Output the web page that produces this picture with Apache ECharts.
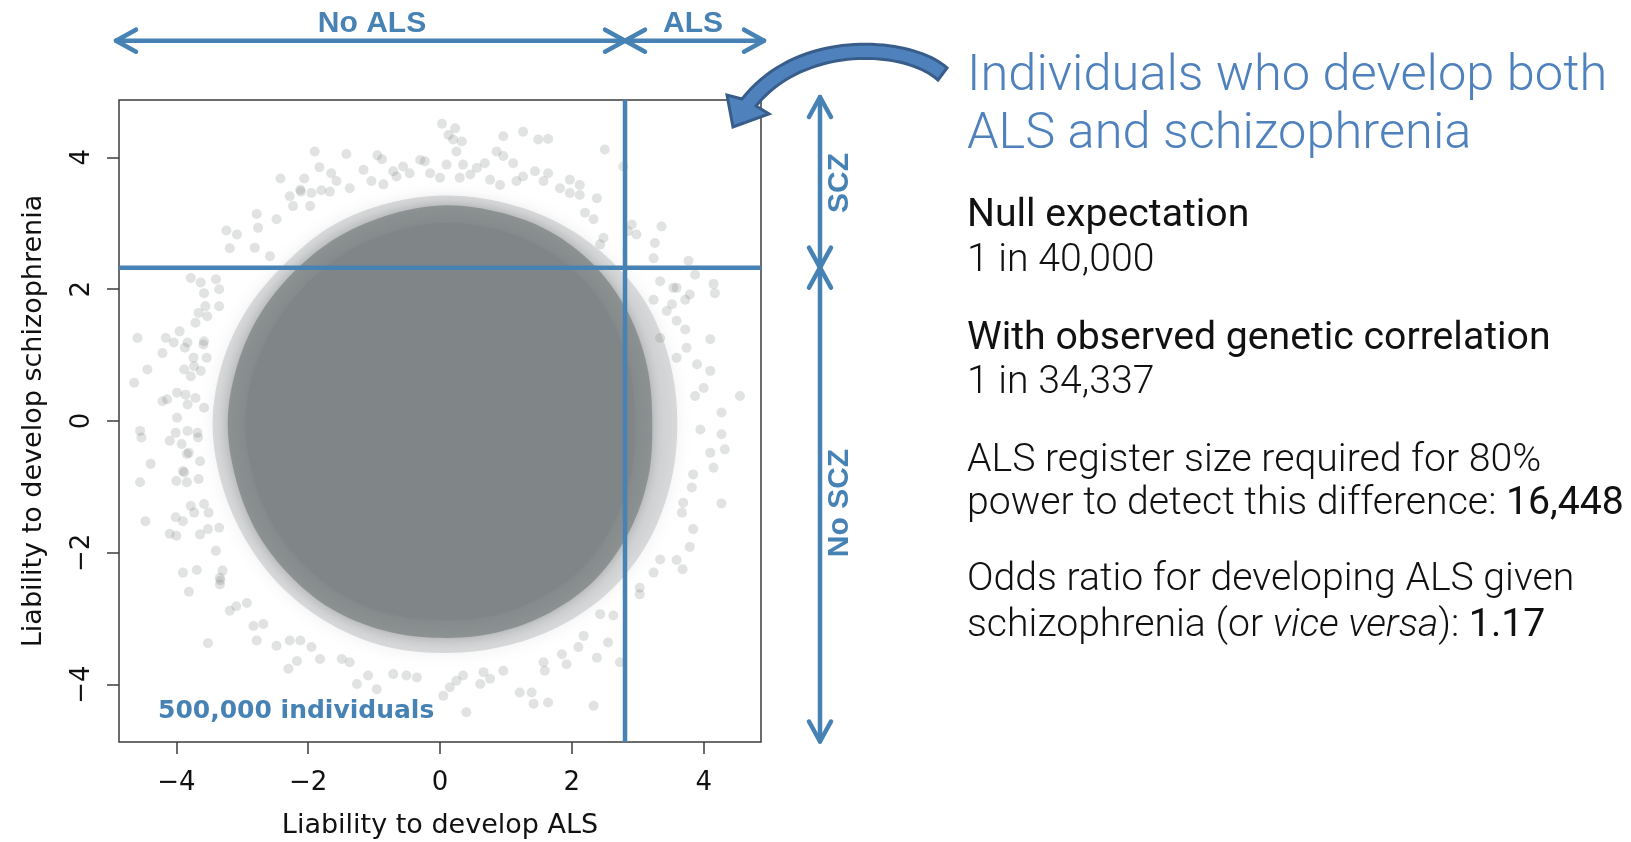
<!DOCTYPE html>
<html>
<head>
<meta charset="utf-8">
<script src="https://cdn.jsdelivr.net/npm/echarts@6/dist/echarts.min.js"></script>
<style>
  html, body { margin: 0; padding: 0; background: #ffffff; }
  #chart { width: 1631px; height: 842px; }
</style>
</head>
<body>
<div id="chart"></div>
<script>
// Liability thresholds (standard-normal quantiles for the lifetime risks)
const alsThreshold = 2.807;
const sczThreshold = 2.326;

// Axis range and tick labels
const axisRange = [-4.87, 4.87];
const tickValues = [-4, -2, 0, 2, 4];
const xTitle = 'Liability to develop ALS';
const yTitle = 'Liability to develop schizophrenia';
const sampleLabel = '500,000 individuals';

// Saturated centre of the simulated cloud, as an outline in liability units
const coreOutline = [
  [2.95, 0.00], [2.88, 0.77], [2.62, 1.51], [2.16, 2.16], [1.53, 2.64], [0.78, 2.92],
  [0.00, 3.00], [-0.76, 2.85], [-1.46, 2.53], [-2.05, 2.05], [-2.51, 1.45], [-2.82, 0.76],
  [-2.95, 0.00], [-2.85, -0.76], [-2.58, -1.49], [-2.12, -2.12], [-1.51, -2.62], [-0.78, -2.92],
  [0.00, -3.02], [0.79, -2.95], [1.54, -2.67], [2.19, -2.19], [2.64, -1.53], [2.90, -0.78]
];
// Densely overlapping band just outside the centre
const innerHalo = [
  [3.22, 0.00], [3.14, 0.84], [2.85, 1.65], [2.35, 2.35], [1.66, 2.88], [0.85, 3.18],
  [0.00, 3.27], [-0.83, 3.11], [-1.60, 2.76], [-2.24, 2.24], [-2.75, 1.59], [-3.08, 0.83],
  [-3.22, 0.00], [-3.11, -0.83], [-2.81, -1.63], [-2.31, -2.31], [-1.65, -2.85], [-0.85, -3.18],
  [0.00, -3.29], [0.86, -3.21], [1.68, -2.90], [2.38, -2.38], [2.88, -1.66], [3.16, -0.85]
];
// Outer edge of the mottled band
const outerHalo = [
  [3.60, 0.00], [3.48, 0.93], [3.12, 1.80], [2.51, 2.51], [1.75, 3.03], [0.89, 3.33],
  [0.00, 3.42], [-0.88, 3.28], [-1.69, 2.93], [-2.37, 2.37], [-2.93, 1.69], [-3.30, 0.89],
  [-3.45, 0.00], [-3.33, -0.89], [-2.99, -1.73], [-2.46, -2.46], [-1.75, -3.03], [-0.91, -3.40],
  [0.00, -3.52], [0.92, -3.43], [1.80, -3.12], [2.58, -2.58], [3.16, -1.83], [3.50, -0.94]
];

// Individual points in the tails of the cloud
const tailPoints = [
  // upper left
  [-1.90, 4.09], [-1.83, 3.85], [-1.42, 4.05], [-0.95, 4.03], [-0.88, 3.97], [-1.65, 3.76],
  [-1.16, 3.81], [-2.42, 3.68], [-2.06, 3.68], [-1.80, 3.50], [-1.95, 3.46], [-2.11, 3.48],
  [-2.23, 3.26], [-1.97, 3.26], [-2.78, 3.14], [-2.48, 3.06], [-2.76, 2.93], [-3.24, 2.89],
  [-3.08, 2.83], [-3.19, 2.62], [-2.81, 2.63], [-2.58, 2.50], [-2.28, 3.41], [-2.12, 3.51],
  [-1.67, 3.48], [-0.71, 3.79], [-0.56, 3.86], [-0.30, 3.96], [-0.23, 3.94], [-1.57, 3.64],
  [-1.37, 3.53], [-1.04, 3.64], [-0.86, 3.59], [-0.66, 3.71], [-0.46, 3.76], [-0.15, 3.76],
  // upper middle and upper right
  [0.00, 3.69], [0.10, 3.89], [0.35, 3.89], [0.68, 3.91], [0.56, 3.84], [0.30, 3.69],
  [0.46, 3.74], [0.76, 3.66], [0.91, 3.58], [1.16, 3.64], [1.26, 3.71], [1.57, 3.64],
  [1.82, 3.53], [1.97, 3.46], [0.03, 4.51], [0.23, 4.44], [0.13, 4.34], [0.20, 4.27],
  [0.33, 4.24], [0.25, 4.09], [0.96, 4.32], [1.26, 4.39], [1.49, 4.27], [1.64, 4.28],
  [2.50, 4.12], [2.78, 3.86], [0.86, 4.09], [0.96, 4.02], [1.11, 3.91], [1.44, 3.79],
  [1.64, 3.76], [1.97, 3.66], [2.12, 3.58], [2.12, 3.43], [2.38, 3.38], [2.33, 3.06],
  [2.20, 3.16], [2.48, 2.78], [2.43, 2.68],
  // both thresholds exceeded, and the right-hand tail
  [2.91, 2.98], [2.98, 2.83], [2.85, 2.88], [3.36, 2.95], [3.26, 2.70], [3.24, 2.47],
  [3.77, 2.43], [3.87, 2.22], [4.15, 2.08], [4.17, 1.94], [3.72, 1.84], [3.79, 1.92],
  [3.59, 2.02], [4.10, 1.24], [4.55, 0.38], [4.27, 0.13], [4.27, -0.20], [4.32, -0.43],
  [4.10, 0.76], [3.90, 0.86], [4.00, 0.50], [3.87, 0.38], [3.72, 1.39], [3.59, 1.52],
  [3.74, 1.11], [3.95, -0.13], [4.10, -0.48], [4.15, -0.71], [3.34, 2.12], [3.54, 2.02],
  [3.24, 1.84], [3.52, 1.77], [3.44, 1.67], [3.34, 1.26], [3.59, 0.96],
  // lower right
  [4.27, -1.25], [3.84, -1.64], [3.79, -1.91], [3.68, -2.25], [3.59, -2.11], [3.34, -2.10],
  [3.24, -2.30], [3.03, -2.53], [3.03, -2.63], [2.55, -3.36], [2.73, -3.66], [2.43, -2.93],
  [2.63, -2.95], [3.69, -1.24], [3.67, -1.39], [3.82, -1.01], [3.84, -0.81], [2.33, -4.32],
  [2.38, -3.59], [2.10, -3.43], [2.18, -3.26], [1.85, -3.54], [1.21, -4.12], [1.39, -4.12],
  [1.42, -4.29], [1.64, -4.27], [1.59, -3.79], [1.57, -3.66], [1.92, -3.69], [0.05, -4.17],
  [0.15, -4.04], [0.25, -3.94], [0.35, -3.86], [0.40, -4.42], [0.61, -3.99], [0.66, -3.81],
  [0.76, -3.91], [0.96, -3.79],
  // lower left
  [-1.26, -3.99], [-0.96, -4.07], [-1.09, -3.86], [-0.71, -3.84], [-0.51, -3.86], [-0.35, -3.89],
  [-1.49, -3.61], [-1.37, -3.66], [-2.48, -3.41], [-2.28, -3.33], [-2.12, -3.33], [-1.95, -3.43],
  [-1.82, -3.61], [-2.30, -3.76], [-2.17, -3.64], [-2.78, -3.33], [-3.52, -3.37], [-3.19, -2.88],
  [-3.09, -2.81], [-2.93, -2.76], [-2.83, -3.11], [-2.68, -3.08], [-3.34, -2.38], [-3.34, -2.48],
  [-3.81, -2.59], [-3.90, -2.30], [-3.69, -2.26], [-3.33, -2.42], [-3.30, -2.27], [-3.40, -1.97],
  [-4.47, -1.52], [-4.10, -1.71], [-4.00, -1.74], [-4.01, -1.46], [-3.90, -1.52], [-3.64, -1.72],
  [-3.52, -1.64], [-3.35, -1.62], [-3.78, -1.29], [-3.73, -1.39], [-3.58, -1.26], [-3.51, -1.39],
  // left
  [-4.55, -0.15], [-4.53, -0.25], [-4.10, -0.30], [-4.39, -0.65], [-4.55, -0.93], [-3.92, -0.35],
  [-3.84, -0.50], [-3.67, -0.25], [-3.64, -0.61], [-3.90, -0.76], [-4.00, -0.91], [-3.84, -0.93],
  [-4.01, -0.18], [-3.83, -0.15], [-3.68, -0.18], [-3.81, -0.48], [-3.66, -0.88], [-3.88, -0.78],
  [-4.21, 0.30], [-4.14, 0.33], [-3.99, 0.43], [-3.86, 0.40], [-3.83, 0.25], [-3.99, 0.05],
  [-3.71, 0.35], [-3.58, 0.20], [-4.64, 0.58], [-4.44, 0.78], [-3.88, 0.78], [-3.78, 0.68],
  [-3.73, 0.83], [-3.63, 0.76], [-4.59, 1.26], [-4.16, 1.26], [-4.04, 1.19], [-3.83, 1.19],
  [-4.21, 1.03], [-3.58, 1.21], [-3.87, 1.11], [-3.74, 0.96], [-3.59, 1.16], [-3.54, 0.96],
  [-3.95, 1.36], [-3.78, 2.17], [-3.63, 2.10], [-3.40, 2.15], [-3.58, 1.94], [-3.35, 2.00],
  [-3.56, 1.74], [-3.66, 1.64], [-3.53, 1.59], [-3.71, 1.49], [-3.35, 1.74]
];

// Side panel text
const panelTitle = ['Individuals who develop both', 'ALS and schizophrenia'];
const nullExpectation = '1 in 40,000';
const observedRate = '1 in 34,337';
const registerSize = '16,448';
const oddsRatio = '1.17';

const BLUE = '#4682b4';
const PANEL_BLUE = '#4f81bd';
const CLOUD = '#808587';
const INK = '#3c3c3c';

const chart = echarts.init(document.getElementById('chart'), null, { renderer: 'canvas' });

const minusSign = v => String(v).replace('-', '\u2212');
const cloudLayers = [outerHalo, innerHalo, coreOutline];
const cloudStyles = [
  { fill: 'rgba(128,133,135,0.26)', shadowBlur: 16, shadowColor: 'rgba(128,133,135,0.5)' },
  { fill: 'rgba(128,133,135,0.78)', shadowBlur: 12, shadowColor: 'rgba(128,133,135,0.7)' },
  { fill: CLOUD, shadowBlur: 6, shadowColor: CLOUD }
];

// closed Catmull-Rom curve through the outline vertices, in pixel space
function closedCurve(pts, steps) {
  const out = [], n = pts.length;
  for (let i = 0; i < n; i++) {
    const p0 = pts[(i - 1 + n) % n], p1 = pts[i], p2 = pts[(i + 1) % n], p3 = pts[(i + 2) % n];
    for (let s = 0; s < steps; s++) {
      const t = s / steps, t2 = t * t, t3 = t2 * t;
      out.push([0, 1].map(k => 0.5 * ((2 * p1[k]) + (-p0[k] + p2[k]) * t +
        (2 * p0[k] - 5 * p1[k] + 4 * p2[k] - p3[k]) * t2 + (-p0[k] + 3 * p1[k] - 3 * p2[k] + p3[k]) * t3)));
    }
  }
  return out;
}

const axisCommon = {
  type: 'value', min: axisRange[0], max: axisRange[1],
  axisLine: { show: false, onZero: false }, splitLine: { show: false },
  axisTick: { show: true, customValues: tickValues, length: 12, inside: false,
    lineStyle: { color: INK, width: 1.5 } }
};

chart.setOption({
  animation: false,
  backgroundColor: '#ffffff',
  grid: {
    left: 119, top: 100, width: 642, height: 642,
    show: true, borderColor: INK, borderWidth: 1.5, backgroundColor: 'transparent',
    outerBoundsMode: 'none'
  },
  xAxis: Object.assign({}, axisCommon, {
    axisLabel: { customValues: tickValues, formatter: minusSign, margin: 28,
      fontFamily: 'DejaVu Sans', fontSize: 26, color: '#111' },
    name: xTitle, nameLocation: 'middle', nameGap: 70,
    nameTextStyle: { fontFamily: 'DejaVu Sans', fontSize: 27, color: '#111' }
  }),
  yAxis: Object.assign({}, axisCommon, {
    axisLabel: { customValues: tickValues, formatter: minusSign, rotate: 90, margin: 24,
      fontFamily: 'DejaVu Sans', fontSize: 26, color: '#111' },
    name: yTitle, nameLocation: 'middle', nameGap: 72,
    nameTextStyle: { fontFamily: 'DejaVu Sans', fontSize: 27, color: '#111' }
  }),
  series: [
    {
      type: 'custom', coordinateSystem: 'cartesian2d', silent: true, clip: true, z: 1,
      data: cloudLayers.map((_, i) => [0, 0, i]),
      encode: { x: 0, y: 1 },
      renderItem: (params, api) => {
        const idx = api.value(2);
        return {
          type: 'polygon',
          shape: { points: closedCurve(cloudLayers[idx].map(p => api.coord(p)), 8) },
          style: cloudStyles[idx]
        };
      }
    },
    {
      type: 'scatter', data: tailPoints, symbol: 'circle', symbolSize: 10, silent: true, clip: true, z: 2,
      itemStyle: { color: 'rgba(120,125,127,0.28)' }
    },
    {
      type: 'line', data: [[alsThreshold, axisRange[0]], [alsThreshold, axisRange[1]]],
      symbol: 'none', silent: true, z: 3, lineStyle: { color: BLUE, width: 4.5 }
    },
    {
      type: 'line', data: [[axisRange[0], sczThreshold], [axisRange[1], sczThreshold]],
      symbol: 'none', silent: true, z: 3, lineStyle: { color: BLUE, width: 4.5 }
    }
  ]
});

// Annotation layer: bracket arrows aligned with the thresholds, curved pointer and side panel
const [xCross] = chart.convertToPixel({ gridIndex: 0 }, [alsThreshold, 0]);
const [, yCross] = chart.convertToPixel({ gridIndex: 0 }, [0, sczThreshold]);

const arrowStroke = { stroke: BLUE, lineWidth: 4.5, lineCap: 'round', lineJoin: 'round', fill: null };
const HEAD = 20, HALF = 11;
const topY = 40.7, leftX = 116, rightX = 764;
const sideX = 820, topTip = 97, bottomTip = 741.5;

function chevronH(tipX, y, dir) { // dir = -1 points left, +1 points right
  return { type: 'polyline', shape: { points: [[tipX - dir * HEAD, y - HALF], [tipX, y], [tipX - dir * HEAD, y + HALF]] }, style: arrowStroke };
}
function chevronV(x, tipY, dir) { // dir = -1 points up, +1 points down
  return { type: 'polyline', shape: { points: [[x - HALF, tipY - dir * HEAD], [x, tipY], [x + HALF, tipY - dir * HEAD]] }, style: arrowStroke };
}
function boldLabel(text, x, y, rot) {
  return { type: 'text', x, y, rotation: rot || 0,
    style: { text, fill: BLUE, fontFamily: 'Liberation Sans, Arial, sans-serif', fontWeight: 'bold', fontSize: 30,
      align: 'center', verticalAlign: 'middle', textAlign: 'center', textVerticalAlign: 'middle' } };
}

// curved block arrow, sampled from two cubic curves
function cubic(p0, p1, p2, p3, n) {
  const pts = [];
  for (let i = 0; i <= n; i++) {
    const t = i / n, u = 1 - t;
    pts.push([
      u * u * u * p0[0] + 3 * u * u * t * p1[0] + 3 * u * t * t * p2[0] + t * t * t * p3[0],
      u * u * u * p0[1] + 3 * u * u * t * p1[1] + 3 * u * t * t * p2[1] + t * t * t * p3[1]
    ]);
  }
  return pts;
}
const outerEdge = cubic([947, 68], [915, 38], [800, 25], [742, 99], 40);
const innerEdge = cubic([756, 106], [805, 45], [905, 50], [938, 80], 40);
const bentArrow = outerEdge.concat([[727, 95], [733, 127], [769, 114]], innerEdge);

function panelText(text, y, size, weight, color, rich) {
  return { type: 'text', x: 967, y,
    style: { text, fill: color, fontFamily: 'Roboto, sans-serif', fontSize: size, fontWeight: weight,
      align: 'left', verticalAlign: 'middle', textAlign: 'left', textVerticalAlign: 'middle', rich: rich || {} } };
}
const BODY = 39.2;
const TITLE = 50.6;
const richBody = {
  b: { fontFamily: 'Roboto, sans-serif', fontSize: BODY, fontWeight: 400, fill: '#111' },
  i: { fontFamily: 'Roboto, sans-serif', fontSize: BODY, fontWeight: 300, fontStyle: 'italic', fill: '#111' }
};

chart.setOption({
  graphic: [
    // horizontal bracket: No ALS | ALS
    { type: 'line', shape: { x1: leftX, y1: topY, x2: rightX, y2: topY }, style: arrowStroke },
    chevronH(leftX, topY, -1), chevronH(xCross, topY, 1), chevronH(xCross, topY, -1), chevronH(rightX, topY, 1),
    boldLabel('No ALS', 372, 24), boldLabel('ALS', 693, 24),
    // vertical bracket: SCZ | No SCZ
    { type: 'line', shape: { x1: sideX, y1: topTip, x2: sideX, y2: bottomTip }, style: arrowStroke },
    chevronV(sideX, topTip, -1), chevronV(sideX, yCross, 1), chevronV(sideX, yCross, -1), chevronV(sideX, bottomTip, 1),
    boldLabel('SCZ', 840, 183, Math.PI / 2), boldLabel('No SCZ', 840, 503, Math.PI / 2),
    // sample size label inside the plot
    { type: 'text', x: 158, y: 711, z: 10,
      style: { text: sampleLabel, fill: BLUE, fontFamily: 'DejaVu Sans', fontWeight: 'bold', fontSize: 25,
        align: 'left', verticalAlign: 'middle', textAlign: 'left', textVerticalAlign: 'middle' } },
    // curved pointer towards the upper-right quadrant
    { type: 'polygon', shape: { points: bentArrow }, style: { fill: PANEL_BLUE, stroke: '#385d8a', lineWidth: 3, lineJoin: 'miter' } },
    // side panel
    panelText(panelTitle[0], 77, TITLE, 300, PANEL_BLUE),
    panelText(panelTitle[1], 135, TITLE, 300, PANEL_BLUE),
    panelText('Null expectation', 216, BODY, 400, '#111'),
    panelText(nullExpectation, 261, BODY, 300, '#111'),
    panelText('With observed genetic correlation', 339, BODY, 400, '#111'),
    panelText(observedRate, 383, BODY, 300, '#111'),
    panelText('ALS register size required for 80%', 461, BODY, 300, '#111'),
    panelText('power to detect this difference: {b|' + registerSize + '}', 504, BODY, 300, '#111', richBody),
    panelText('Odds ratio for developing ALS given', 580, BODY, 300, '#111'),
    panelText('schizophrenia (or {i|vice versa}): {b|' + oddsRatio + '}', 626, BODY, 300, '#111', richBody)
  ]
});
</script>
</body>
</html>
